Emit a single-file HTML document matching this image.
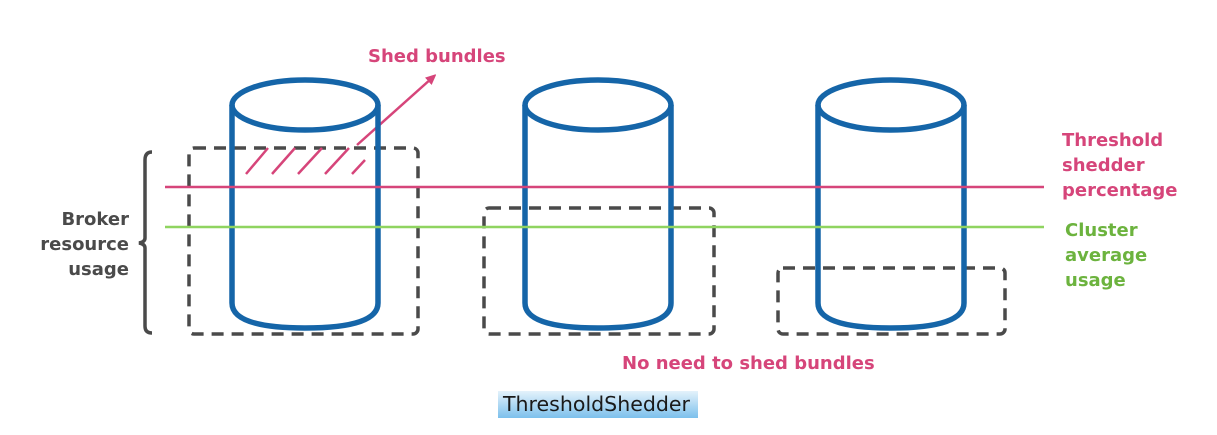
<!DOCTYPE html>
<html><head><style>body{margin:0;background:#fff}svg{display:block}</style></head><body>
<svg width="1217" height="435" viewBox="0 0 1217 435" xmlns="http://www.w3.org/2000/svg" font-family="'DejaVu Sans','Liberation Sans',sans-serif">
<defs>
<linearGradient id="g" x1="0" y1="0" x2="0" y2="1"><stop offset="0" stop-color="#e4f2fb"/><stop offset="1" stop-color="#7cc0ec"/></linearGradient>
<marker id="ar" markerWidth="10" markerHeight="10" refX="5" refY="5" orient="auto" markerUnits="userSpaceOnUse"><path d="M0,0 L11,5 L0,10 z" fill="#d6457a"/></marker>
</defs>
<g fill="none" stroke="#4a4a4a" stroke-width="3.5" stroke-dasharray="12,8">
<rect x="189" y="148" width="229" height="186" rx="5"/>
<rect x="484" y="208" width="230" height="126" rx="5"/>
<rect x="778" y="268" width="227" height="66" rx="5"/>
</g>
<path d="M152,152 Q145,152 145,160 L145,238 Q145,242 139,243 Q145,244 145,248 L145,326 Q145,333 152,333" fill="none" stroke="#4a4a4a" stroke-width="3.5"/>
<g stroke="#d6457a" stroke-width="2.5">
<line x1="246" y1="174" x2="268" y2="148"/><line x1="272" y1="174" x2="295" y2="148"/><line x1="298" y1="174" x2="322" y2="148"/><line x1="325" y1="174" x2="349" y2="148"/><line x1="352" y1="174" x2="365" y2="160"/>
<line x1="357" y1="145" x2="432" y2="78" marker-end="url(#ar)"/>
</g>
<g fill="none" stroke="#1565a8" stroke-width="5.5">
<g><ellipse cx="305" cy="105" rx="73" ry="25"/><path d="M232,105 L232,303 Q232,328 305,328 Q378,328 378,303 L378,105"/></g>
<g><ellipse cx="598" cy="105" rx="73" ry="25"/><path d="M525,105 L525,303 Q525,328 598,328 Q671,328 671,303 L671,105"/></g>
<g><ellipse cx="891" cy="105" rx="73" ry="25"/><path d="M818,105 L818,303 Q818,328 891,328 Q964,328 964,303 L964,105"/></g>
</g>
<line x1="165" y1="187" x2="1044" y2="187" stroke="#d6457a" stroke-width="2.5"/>
<line x1="165" y1="227" x2="1044" y2="227" stroke="#8fd460" stroke-width="2.5"/>
<g font-size="18" font-weight="bold">
<text x="368" y="62" fill="#d6457a">Shed bundles</text>
<text x="1062" y="146" fill="#d6457a">Threshold</text>
<text x="1062" y="171" fill="#d6457a">shedder</text>
<text x="1062" y="196" fill="#d6457a">percentage</text>
<text x="1065" y="236" fill="#6cb33e">Cluster</text>
<text x="1065" y="261" fill="#6cb33e">average</text>
<text x="1065" y="286" fill="#6cb33e">usage</text>
<text x="129" y="225" fill="#4a4a4a" text-anchor="end">Broker</text>
<text x="129" y="250" fill="#4a4a4a" text-anchor="end">resource</text>
<text x="129" y="275" fill="#4a4a4a" text-anchor="end">usage</text>
<text x="622" y="369" fill="#d6457a">No need to shed bundles</text>
</g>
<rect x="498" y="391" width="200" height="27" fill="url(#g)"/>
<text x="503" y="411" font-size="20" fill="#1a1a1a" textLength="187" lengthAdjust="spacingAndGlyphs">ThresholdShedder</text>
</svg>
</body></html>
